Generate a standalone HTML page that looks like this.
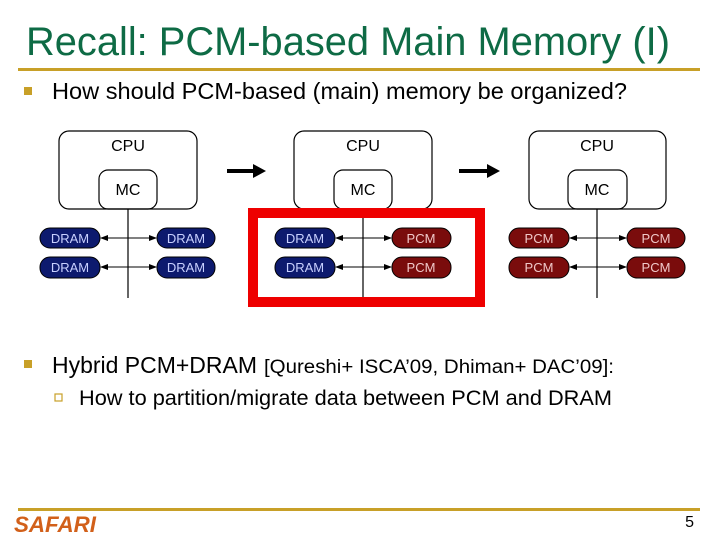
<!DOCTYPE html>
<html><head><style>body{margin:0;background:#fff}svg{display:block}</style></head>
<body>
<svg width="720" height="540" xmlns="http://www.w3.org/2000/svg" font-family="Liberation Sans, sans-serif">
<defs>
<marker id="ah" markerWidth="8" markerHeight="8" refX="7" refY="4" orient="auto-start-reverse" markerUnits="userSpaceOnUse"><path d="M0,1 L8,4 L0,7 Z" fill="#000"/></marker>
</defs>
<text x="26" y="55" font-size="40" fill="#0e6b45" textLength="644" lengthAdjust="spacingAndGlyphs">Recall: PCM-based Main Memory (I)</text>
<rect x="18" y="68" width="682" height="3" fill="#c8a028"/>
<rect x="24" y="87" width="8" height="8" fill="#c8a028"/>
<text x="52" y="99" font-size="23" fill="#000" textLength="575" lengthAdjust="spacingAndGlyphs">How should PCM-based (main) memory be organized?</text>

<g stroke="#000" stroke-width="1.2" fill="none">
<rect x="59" y="131" width="138" height="78" rx="10"/>
<rect x="99" y="170" width="58" height="39" rx="9"/>
<line x1="128" y1="209" x2="128" y2="298"/>
<rect x="294" y="131" width="138" height="78" rx="10"/>
<rect x="334" y="170" width="58" height="39" rx="9"/>
<line x1="363" y1="209" x2="363" y2="298"/>
<rect x="529" y="131" width="137" height="78" rx="10"/>
<rect x="568" y="170" width="59" height="39" rx="9"/>
<line x1="597" y1="209" x2="597" y2="298"/>
</g>
<g font-size="16" text-anchor="middle" fill="#000">
<text x="128" y="151">CPU</text><text x="128" y="195">MC</text>
<text x="363" y="151">CPU</text><text x="363" y="195">MC</text>
<text x="597" y="151">CPU</text><text x="597" y="195">MC</text>
</g>
<g stroke="#000" stroke-width="4"><line x1="227" y1="171" x2="255" y2="171"/><line x1="459" y1="171" x2="489" y2="171"/></g>
<path d="M253,164 L266,171 L253,178Z M487,164 L500,171 L487,178Z" fill="#000"/>

<rect x="253" y="213" width="227" height="89" fill="none" stroke="#ee0000" stroke-width="10"/>

<g stroke="#000" stroke-width="1" marker-start="url(#ah)" marker-end="url(#ah)">
<line x1="101" y1="238" x2="156" y2="238"/><line x1="101" y1="267" x2="156" y2="267"/>
<line x1="570" y1="238" x2="626" y2="238"/><line x1="570" y1="267" x2="626" y2="267"/>
</g>
<g stroke="#000" stroke-width="1" marker-end="url(#ah)">
<line x1="363" y1="238" x2="336" y2="238"/><line x1="363" y1="267" x2="336" y2="267"/>
<line x1="363" y1="238" x2="391" y2="238"/><line x1="363" y1="267" x2="391" y2="267"/>
</g>
<g fill="#0d1a6e" stroke="#000" stroke-width="1">
<rect x="40" y="228" width="60" height="20" rx="10"/><rect x="40" y="257" width="60" height="21" rx="10"/>
<rect x="157" y="228" width="58" height="20" rx="10"/><rect x="157" y="257" width="58" height="21" rx="10"/>
<rect x="275" y="228" width="60" height="20" rx="10"/><rect x="275" y="257" width="60" height="21" rx="10"/>
</g>
<g fill="#7a0c0c" stroke="#000" stroke-width="1">
<rect x="392" y="228" width="59" height="20" rx="10"/><rect x="392" y="257" width="59" height="21" rx="10"/>
<rect x="509" y="228" width="60" height="20" rx="10"/><rect x="509" y="257" width="60" height="21" rx="10"/>
<rect x="627" y="228" width="58" height="20" rx="10"/><rect x="627" y="257" width="58" height="21" rx="10"/>
</g>
<g font-size="13" fill="#c8d0ff" text-anchor="middle">
<text x="70" y="243">DRAM</text><text x="70" y="272">DRAM</text>
<text x="186" y="243">DRAM</text><text x="186" y="272">DRAM</text>
<text x="305" y="243">DRAM</text><text x="305" y="272">DRAM</text>
</g>
<g font-size="13" fill="#f0c8c8" text-anchor="middle">
<text x="421" y="243">PCM</text><text x="421" y="272">PCM</text>
<text x="539" y="243">PCM</text><text x="539" y="272">PCM</text>
<text x="656" y="243">PCM</text><text x="656" y="272">PCM</text>
</g>

<rect x="24" y="360" width="8" height="8" fill="#c8a028"/>
<text x="52" y="373" font-size="23" fill="#000" textLength="205" lengthAdjust="spacingAndGlyphs">Hybrid PCM+DRAM</text>
<text x="264" y="373" font-size="19" fill="#000" textLength="350" lengthAdjust="spacingAndGlyphs">[Qureshi+ ISCA’09, Dhiman+ DAC’09]:</text>
<rect x="55" y="394" width="7" height="7" fill="none" stroke="#c8a028" stroke-width="1.2"/>
<text x="79" y="405" font-size="21" fill="#000" textLength="533" lengthAdjust="spacingAndGlyphs">How to partition/migrate data between PCM and DRAM</text>

<rect x="18" y="508" width="682" height="3" fill="#c8a028"/>
<text x="14" y="532" font-size="22" font-weight="bold" font-style="italic" fill="#d2601a" textLength="82" lengthAdjust="spacingAndGlyphs">SAFARI</text>
<text x="694" y="527" font-size="16" fill="#000" text-anchor="end">5</text>
</svg>
</body></html>
